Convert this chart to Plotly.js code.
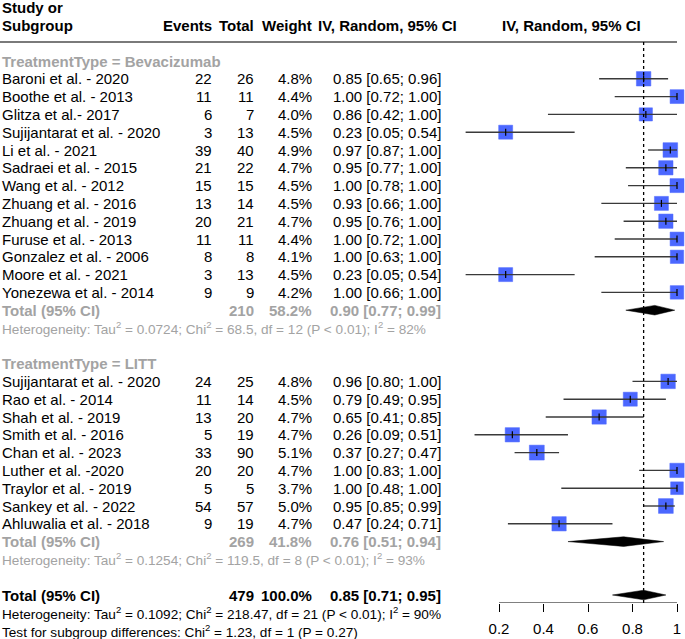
<!DOCTYPE html>
<html>
<head>
<meta charset="utf-8">
<script src="https://cdn.plot.ly/plotly-3.0.1.min.js"></script>
<style>html,body{margin:0;padding:0;background:#fff;}#chart{width:685px;height:639px;}</style>
</head>
<body>
<div id="chart"></div>
<script>
// ---------- DATA ----------
const bevStudies = ["Baroni et al. - 2020","Boothe et al. - 2013","Glitza et al.- 2017","Sujijantarat et al. - 2020","Li et al. - 2021","Sadraei et al. - 2015","Wang et al. - 2012","Zhuang et al. - 2016","Zhuang et al. - 2019","Furuse et al. - 2013","Gonzalez et al. - 2006","Moore et al. - 2021","Yonezewa et al. - 2014"];
const bevEvents = [22,11,6,3,39,21,15,13,20,11,8,3,9];
const bevTotal  = [26,11,7,13,40,22,15,14,21,11,8,13,9];
const bevWeight = [4.8,4.4,4.0,4.5,4.9,4.7,4.5,4.5,4.7,4.4,4.1,4.5,4.2];
const bevEst = [0.85,1.00,0.86,0.23,0.97,0.95,1.00,0.93,0.95,1.00,1.00,0.23,1.00];
const bevLo  = [0.65,0.72,0.42,0.05,0.87,0.77,0.78,0.66,0.76,0.72,0.63,0.05,0.66];
const bevHi  = [0.96,1.00,1.00,0.54,1.00,1.00,1.00,1.00,1.00,1.00,1.00,0.54,1.00];
const bevSummary = {total:210, weight:58.2, est:0.90, lo:0.77, hi:0.99};
const bevHet = "Heterogeneity: Tau<sup>2</sup> = 0.0724; Chi<sup>2</sup> = 68.5, df = 12 (P < 0.01); I<sup>2</sup> = 82%";

const littStudies = ["Sujijantarat et al. - 2020","Rao et al. - 2014","Shah et al. - 2019","Smith et al. - 2016","Chan et al. - 2023","Luther et al. -2020","Traylor et al. - 2019","Sankey et al. - 2022","Ahluwalia et al. - 2018"];
const littEvents = [24,11,13,5,33,20,5,54,9];
const littTotal  = [25,14,20,19,90,20,5,57,19];
const littWeight = [4.8,4.5,4.7,4.7,5.1,4.7,3.7,5.0,4.7];
const littEst = [0.96,0.79,0.65,0.26,0.37,1.00,1.00,0.95,0.47];
const littLo  = [0.80,0.49,0.41,0.09,0.27,0.83,0.48,0.85,0.24];
const littHi  = [1.00,0.95,0.85,0.51,0.47,1.00,1.00,0.99,0.71];
const littSummary = {total:269, weight:41.8, est:0.76, lo:0.51, hi:0.94};
const littHet = "Heterogeneity: Tau<sup>2</sup> = 0.1254; Chi<sup>2</sup> = 119.5, df = 8 (P < 0.01); I<sup>2</sup> = 93%";

const allSummary = {total:479, weight:100.0, est:0.85, lo:0.71, hi:0.95};
const allHet = "Heterogeneity: Tau<sup>2</sup> = 0.1092; Chi<sup>2</sup> = 218.47, df = 21 (P < 0.01); I<sup>2</sup> = 90%";
const testText = "Test for subgroup differences: Chi<sup>2</sup> = 1.23, df = 1 (P = 0.27)";

const groupLabels = ["TreatmentType = Bevacizumab","TreatmentType = LITT"];
const headers = ["Events","Total","Weight","IV, Random, 95% CI"];
const tickVals = [0.2,0.4,0.6,0.8,1];
const tickLabels = ["0.2","0.4","0.6","0.8","1"];

// ---------- LAYOUT GEOMETRY ----------
const W = 685, H = 639;
const row0Px = 61, rowStep = 17.8, axisPx = 603;
const yTop = -row0Px/rowStep;
const yBot = (axisPx-row0Px)/rowStep;
const pxPerUnit = 222.5, px02 = 499;
const xLeft = 0.2 - px02/pxPerUnit;
const xRight = 0.2 + (W - px02)/pxPerUnit;

const FONT = '"Liberation Sans", Arial, Helvetica, sans-serif';
const GRAY = '#a3a3a3';
const col = {name:1, events:213, total:255, weight:313, ci:442, ciHead:458, forestHead:571};

const rowsBev = bevStudies.map((_, i) => 1 + i);
const bevTotalRow = 14, bevHetRow = 15;
const littHeadRow = 17;
const rowsLitt = littStudies.map((_, i) => 18 + i);
const littTotalRow = 27, littHetRow = 28;
const allTotalRow = 30, allHetRow = 31, testRow = 32;

const rowToPaper = r => 1 - (row0Px + r * rowStep) / H;

const ann = [];
function t(text, px, row, anchor, opts) {
  opts = opts || {};
  ann.push({
    text: opts.bold ? '<b>' + text + '</b>' : text,
    xref: 'paper', yref: 'paper', x: px / W, y: rowToPaper(row),
    xanchor: anchor, yanchor: 'middle', showarrow: false,
    borderpad: 0,
    font: {family: FONT, size: opts.size || 15, color: opts.color || '#000'}
  });
}
const ciStr = (e, l, h) => e.toFixed(2) + ' [' + l.toFixed(2) + '; ' + h.toFixed(2) + ']';

// headers
t('Study or', col.name, -3, 'left', {bold: true});
t('Subgroup', col.name, -2, 'left', {bold: true});
t(headers[0], col.events, -2, 'right', {bold: true});
t(headers[1], col.total, -2, 'right', {bold: true});
t(headers[2], col.weight, -2, 'right', {bold: true});
t(headers[3], col.ciHead, -2, 'right', {bold: true});
t(headers[3], col.forestHead, -2, 'center', {bold: true});

function studyRows(names, ev, tot, w, e, lo, hi, rows) {
  names.forEach((n, i) => {
    const r = rows[i];
    t(n, col.name, r, 'left');
    t(String(ev[i]), col.events, r, 'right');
    t(String(tot[i]), col.total, r, 'right');
    t(w[i].toFixed(1) + '%', col.weight, r, 'right');
    t(ciStr(e[i], lo[i], hi[i]), col.ci, r, 'right');
  });
}
t(groupLabels[0], col.name, 0, 'left', {bold: true, color: GRAY});
studyRows(bevStudies, bevEvents, bevTotal, bevWeight, bevEst, bevLo, bevHi, rowsBev);
function summaryRow(s, r, color) {
  t('Total (95% CI)', col.name, r, 'left', {bold: true, color});
  t(String(s.total), col.total, r, 'right', {bold: true, color});
  t(s.weight.toFixed(1) + '%', col.weight, r, 'right', {bold: true, color});
  t(ciStr(s.est, s.lo, s.hi), col.ci, r, 'right', {bold: true, color});
}
summaryRow(bevSummary, bevTotalRow, GRAY);
t(bevHet, col.name, bevHetRow, 'left', {size: 13.6, color: GRAY});

t(groupLabels[1], col.name, littHeadRow, 'left', {bold: true, color: GRAY});
studyRows(littStudies, littEvents, littTotal, littWeight, littEst, littLo, littHi, rowsLitt);
summaryRow(littSummary, littTotalRow, GRAY);
t(littHet, col.name, littHetRow, 'left', {size: 13.6, color: GRAY});

summaryRow(allSummary, allTotalRow, '#000');
t(allHet, col.name, allHetRow, 'left', {size: 13.6});
t(testText, col.name, testRow, 'left', {size: 13.6});

// ---------- TRACES ----------
const allEst = bevEst.concat(littEst);
const allLo = bevLo.concat(littLo);
const allHi = bevHi.concat(littHi);
const allW = bevWeight.concat(littWeight);
const allRows = rowsBev.concat(rowsLitt);

const squares = {
  type: 'scatter', mode: 'markers', x: allEst, y: allRows,
  marker: {symbol: 'square', color: '#0028ff', size: allW.map(w => 6.6 * Math.sqrt(w)),
           line: {width: 0.5, color: '#0028ff'}},
  hoverinfo: 'skip', cliponaxis: false
};
const lx = [], ly = [];
allRows.forEach((r, i) => { lx.push(allLo[i], allHi[i], null); ly.push(r, r, null); });
const ciLines = {type: 'scatter', mode: 'lines', x: lx, y: ly,
  line: {color: '#3a3a3a', width: 1.4}, hoverinfo: 'skip'};
const ticksIn = {type: 'scatter', mode: 'markers', x: allEst, y: allRows,
  marker: {symbol: 'line-ns', size: 5, line: {width: 1.2, color: '#000'}},
  hoverinfo: 'skip', cliponaxis: false};

function diamond(s, r) {
  const h = 0.27;
  return {type: 'scatter', mode: 'lines', fill: 'toself', fillcolor: '#000',
    x: [s.lo, s.est, s.hi, s.est, s.lo], y: [r, r - h, r, r + h, r],
    line: {color: '#000', width: 0.5}, hoverinfo: 'skip'};
}

const data = [squares, ciLines, ticksIn,
  diamond(bevSummary, bevTotalRow), diamond(littSummary, littTotalRow), diamond(allSummary, allTotalRow)];

const layout = {
  width: W, height: H,
  margin: {l: 0, r: 0, t: 0, b: 0, pad: 0},
  paper_bgcolor: '#fff', plot_bgcolor: '#fff',
  showlegend: false,
  font: {family: FONT, size: 15, color: '#000'},
  xaxis: {range: [xLeft, xRight], domain: [0, 1], showgrid: false, zeroline: false, showline: false,
          tickmode: 'array', tickvals: tickVals, ticktext: tickLabels,
          ticks: 'outside', ticklen: 8, tickwidth: 1, tickcolor: '#000',
          ticklabelstandoff: 4,
          tickfont: {family: FONT, size: 15, color: '#000'}, fixedrange: true},
  yaxis: {range: [yBot, yTop], domain: [(H - axisPx) / H, 1], showgrid: false, zeroline: false,
          showline: false, showticklabels: false, ticks: '', fixedrange: true},
  shapes: [
    {type: 'line', xref: 'paper', yref: 'y', x0: 0, x1: 677 / W, y0: (42 - row0Px) / rowStep, y1: (42 - row0Px) / rowStep,
     line: {color: '#7a7a7a', width: 2}},
    {type: 'line', xref: 'x', yref: 'y', x0: allSummary.est, x1: allSummary.est,
     y0: (42 - row0Px) / rowStep, y1: yBot, line: {color: '#000', width: 1.3, dash: 'dot'}},
    {type: 'line', xref: 'x', yref: 'y', x0: tickVals[0], x1: tickVals[tickVals.length - 1], y0: yBot, y1: yBot,
     line: {color: '#000', width: 1}}
  ],
  annotations: ann
};

Plotly.newPlot('chart', data, layout, {staticPlot: true, displayModeBar: false});
</script>
</body>
</html>
